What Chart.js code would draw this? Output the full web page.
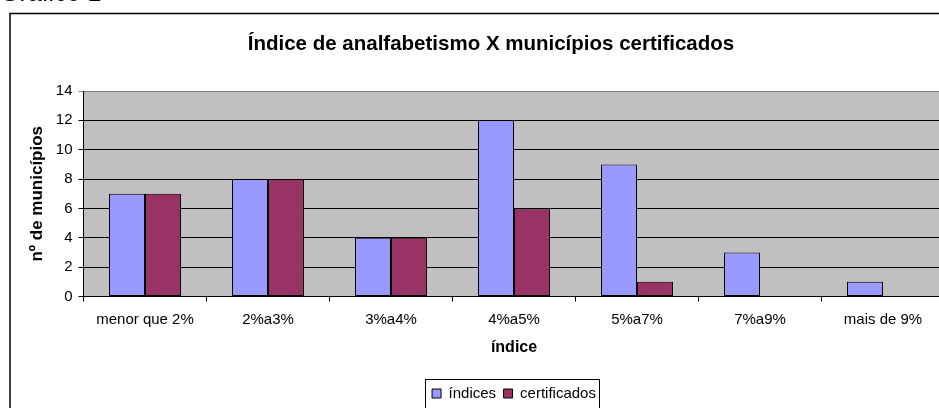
<!DOCTYPE html>
<html>
<head>
<meta charset="utf-8">
<script src="https://cdn.jsdelivr.net/npm/chart.js@4"></script>
<style>
  html, body { margin: 0; padding: 0; background: #fff; overflow: hidden; width: 939px; height: 408px; }
  #wrap { position: absolute; left: 0; top: 0; width: 1000px; height: 440px; }
  #cap { position: absolute; left: 0; top: -20px; font: 25px "Liberation Sans", Arial, sans-serif; line-height: 25px; color: #000; white-space: nowrap; }
</style>
</head>
<body>
<div id="wrap"><canvas id="c" width="1000" height="440"></canvas></div>
<div id="cap">Gráfico 1</div>
<script>
const categories = ['menor que 2%', '2%a3%', '3%a4%', '4%a5%', '5%a7%', '7%a9%', 'mais de 9%'];
const indices = [7, 8, 4, 12, 9, 3, 1];
const certificados = [7, 8, 4, 6, 1, 0, 0];
const seriesNames = ['índices', 'certificados'];
const yTicks = [0, 2, 4, 6, 8, 10, 12, 14];
const chartTitle = 'Índice de analfabetismo X municípios certificados';
const xTitle = 'índice';
const yTitle = 'nº de municípios';

const FONT = '"Liberation Sans", Arial, sans-serif';

const frame = {
  id: 'frame',
  beforeDraw(chart) {
    const {ctx, chartArea: a} = chart;
    ctx.save();
    ctx.fillStyle = '#C0C0C0';
    ctx.fillRect(a.left, a.top, a.right - a.left, a.bottom - a.top);
    ctx.strokeStyle = '#000';
    ctx.lineWidth = 1.5;
    ctx.strokeRect(10, 13.5, 962, 420);
    ctx.restore();
  },
  afterDraw(chart) {
    const lg = chart.legend;
    if (!lg || !lg.legendHitBoxes || !lg.legendHitBoxes.length) return;
    let l = Infinity, r = -Infinity;
    lg.legendHitBoxes.forEach(h => { l = Math.min(l, h.left); r = Math.max(r, h.left + h.width); });
    const {ctx} = chart;
    ctx.save();
    ctx.strokeStyle = '#000';
    ctx.lineWidth = 1;
    ctx.strokeRect(Math.round(l - 7) + 0.5, Math.round(lg.top) + 0.5, Math.round(r - l + 10), 40);
    ctx.restore();
  }
};

new Chart(document.getElementById('c'), {
  type: 'bar',
  plugins: [frame],
  data: {
    labels: categories,
    datasets: [
      { label: seriesNames[0], data: indices, backgroundColor: '#9999FF', borderColor: '#000', borderWidth: 1, borderSkipped: false, categoryPercentage: 0.585, barPercentage: 1 },
      { label: seriesNames[1], data: certificados, backgroundColor: '#993366', borderColor: '#000', borderWidth: 1, borderSkipped: false, categoryPercentage: 0.585, barPercentage: 1 }
    ]
  },
  options: {
    responsive: false,
    devicePixelRatio: 1,
    animation: false,
    layout: { padding: { left: 10, right: 28, top: 0, bottom: 29 } },
    plugins: {
      title: {
        display: true, text: chartTitle, color: '#000',
        font: { family: FONT, size: 20.5, weight: 'bold' },
        padding: { top: 31.7, bottom: 34.7 }
      },
      legend: {
        position: 'bottom', fullSize: false,
        labels: {
          color: '#000', font: { family: FONT, size: 15 },
          boxWidth: 9, boxHeight: 9, padding: 7.5
        }
      },
      tooltip: { enabled: false }
    },
    scales: {
      x: {
        grid: { display: true, offset: true, drawOnChartArea: false, drawTicks: true, tickLength: 5, color: '#000' },
        border: { display: true, color: '#000', width: 1 },
        ticks: { color: '#000', font: { family: FONT, size: 15 }, padding: 9, maxRotation: 0, autoSkip: false },
        title: { display: true, text: xTitle, color: '#000', font: { family: FONT, size: 16, weight: 'bold' }, padding: { top: 0, bottom: 21 } },
        afterFit(s) { s.height = 82; }
      },
      y: {
        min: 0, max: 14,
        afterBuildTicks(s) { s.ticks = yTicks.map(v => ({ value: v })); },
        grid: { color: ctx => (ctx.tick && ctx.tick.value === 14) ? '#808080' : '#000', tickLength: 5, drawTicks: true },
        border: { display: true, color: '#000', width: 1 },
        ticks: { color: '#000', font: { family: FONT, size: 15 }, padding: 6 },
        title: { display: true, text: yTitle, color: '#000', font: { family: FONT, size: 17, weight: 'bold' }, padding: { top: 17, bottom: 0 } },
        afterFit(s) { s.width = 73.5; }
      },
      yr: {
        position: 'right', display: true,
        grid: { display: false }, border: { display: false },
        ticks: { display: false },
        afterFit(s) { s.width = 27.5; }
      }
    }
  }
});
</script>
</body>
</html>
